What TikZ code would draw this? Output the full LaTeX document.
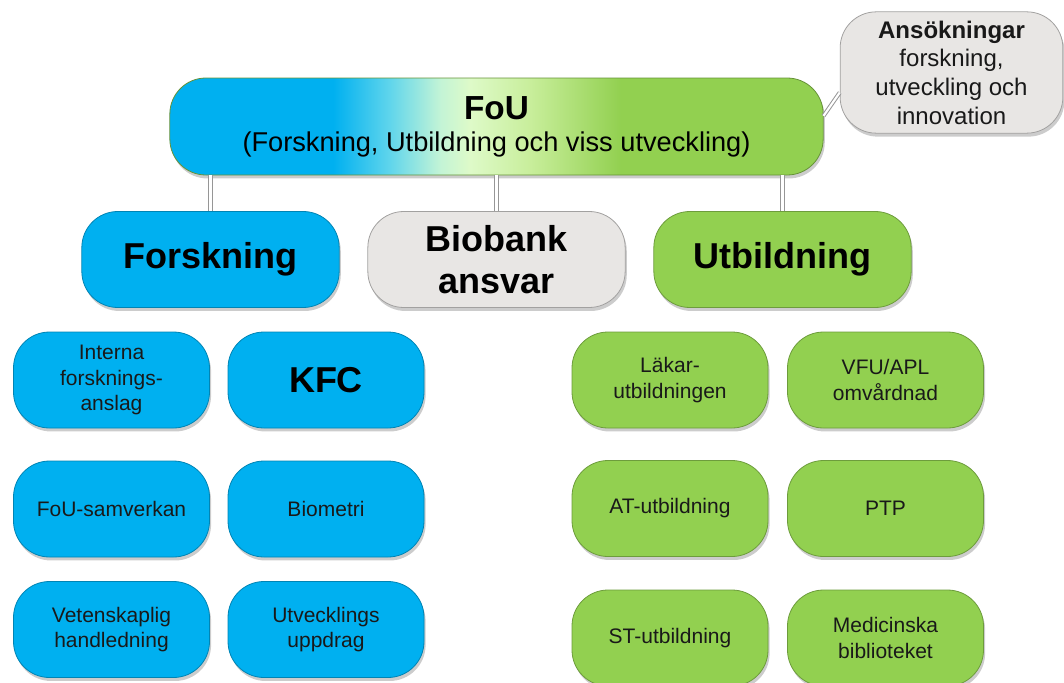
\documentclass[tikz,border=0pt]{standalone}
\usepackage{fontspec}
\setmainfont{Liberation Sans}
\usepackage{tikz}
\usetikzlibrary{shadows}
\definecolor{fblue}{RGB}{0,176,240}
\definecolor{fcyan}{RGB}{95,213,236}
\definecolor{fmint}{RGB}{195,244,214}
\definecolor{fpale}{RGB}{222,250,200}
\definecolor{flime}{RGB}{200,238,155}
\definecolor{fgreen}{RGB}{146,208,80}
\definecolor{fgray}{RGB}{232,230,228}
\definecolor{linkgray}{RGB}{150,150,150}
\pgfdeclarehorizontalshading{fouband}{100bp}{color(0bp)=(fblue); color(37.5bp)=(fblue); color(41.8bp)=(fcyan); color(45.7bp)=(fmint); color(48bp)=(fpale); color(52.6bp)=(flime); color(59.5bp)=(fgreen); color(100bp)=(fgreen)}
\tikzset{
  box/.style={rounded corners=27pt,align=center,inner sep=2pt,line width=0.6pt,
    drop shadow={shadow xshift=1.2pt,shadow yshift=-2.6pt,opacity=0.4}},
  top node/.style={box,minimum width=490pt,minimum height=72.75pt,draw=fgreen!70!black,
    font=\fontsize{20.4}{24}\selectfont},
  main node/.style={box,minimum width=193pt,minimum height=72pt,font=\fontsize{27}{31.5}\selectfont\bfseries},
  small node/.style={box,minimum width=147pt,minimum height=72pt,text=black!90,font=\fontsize{15.75}{19}\selectfont},
  side node/.style={box,minimum width=167pt,minimum height=91pt,text=black!90,font=\fontsize{18}{21.5}\selectfont},
  forsk/.style={fill=fblue,draw=fblue!75!black},
  utb/.style={fill=fgreen,draw=fgreen!75!black},
  bio/.style={fill=fgray,draw=fgray!70!black},
  link/.style={draw=linkgray,double=white,double distance=1.6pt,line width=0.75pt}
}
\begin{document}
\begin{tikzpicture}[x=0.75pt,y=-0.75pt,
        level 1/.style={sibling distance=214.5pt, level distance=99.75pt},
        edge from parent/.style={link},
        edge from parent path={(\tikzchildnode.north |- \tikzparentnode.south) -- (\tikzchildnode.north)}
      ]
  \useasboundingbox (0,0) rectangle (1064,682);
  \node [top node,shading=fouband] (1) at (496.5,126.5)
        {{\fontsize{25}{30}\selectfont\bfseries FoU}\\(Forskning, Utbildning och viss utveckling)}
    child {node [main node,forsk] (2) {Forskning}}
    child {node [main node,bio] (3) {Biobank\\ansvar}}
    child {node [main node,utb] (4) {Utbildning}};
  \node [side node,bio] (5) at (951.5,72.5) {\textbf{Ansökningar}\\forskning,\\utveckling och\\innovation};
  \draw [link] ([yshift=8pt]1.east) -- ([yshift=-15pt]5.west);

  \node [small node,forsk] (6) at (111.5,380) {Interna\\forsknings-\\anslag};
  \node [small node,forsk,text=black,font=\fontsize{27}{31.5}\selectfont\bfseries] (7) at (326,380) {KFC};
  \node [small node,forsk] (8) at (111.5,509) {FoU-samverkan};
  \node [small node,forsk] (9) at (326,509) {Biometri};
  \node [small node,forsk] (10) at (111.5,629.5) {Vetenskaplig\\handledning};
  \node [small node,forsk] (11) at (326,629.5) {Utvecklings\\uppdrag};

  \node [small node,utb] (12) at (670,380) {Läkar-\\utbildningen};
  \node [small node,utb] (13) at (885.5,380) {VFU/APL\\omvårdnad};
  \node [small node,utb] (14) at (670,508.5) {AT-utbildning};
  \node [small node,utb] (15) at (885.5,508.5) {PTP};
  \node [small node,utb] (16) at (670,638) {ST-utbildning};
  \node [small node,utb] (17) at (885.5,638) {Medicinska\\biblioteket};
\end{tikzpicture}
\end{document}
